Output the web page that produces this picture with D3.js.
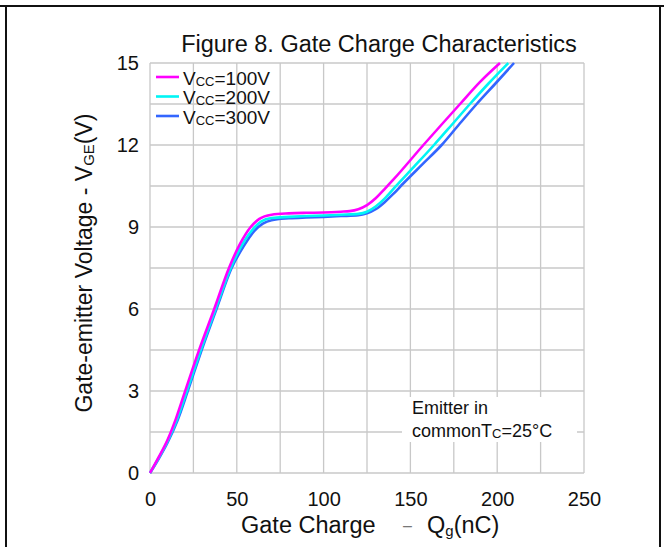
<!DOCTYPE html>
<html>
<head>
<meta charset="utf-8">
<script src="https://cdn.jsdelivr.net/npm/d3@7"></script>
<style>
  body { margin: 0; background: #fff; }
  svg text { font-family: "Liberation Sans", Arial, sans-serif; fill: #111; }
</style>
</head>
<body>
<div id="chart"></div>
<script>
// tick values
var xTicks = [0, 50, 100, 150, 200, 250];
var xGrid = [25, 50, 75, 100, 125, 150, 175, 200, 225, 250];
var yTicks = [0, 3, 6, 9, 12, 15];
var yGrid = [1.5, 3, 4.5, 6, 7.5, 9, 10.5, 12, 13.5, 15];

// series names / colours
var seriesNames = ["100V", "200V", "300V"];
var seriesColors = ["#ff00ff", "#00f5f5", "#3366ff"];

// Qg (nC), VGE (V)
var qg100 = [0, 5, 10, 15, 20, 28, 37, 45.5, 52, 58, 63, 70, 80, 90, 100, 110, 115, 120, 125, 130, 135, 140, 157.5, 168, 178.6, 190, 201.6];
var vge100 = [0, 0.58, 1.2, 2.0, 2.95, 4.45, 6, 7.5, 8.4, 9.0, 9.3, 9.45, 9.5, 9.52, 9.53, 9.56, 9.58, 9.65, 9.8, 10.05, 10.38, 10.72, 12, 12.75, 13.5, 14.3, 15];

var qg200 = [0, 5, 10, 15.5, 21, 29, 37.8, 46.5, 53, 59, 64, 70, 80, 90, 100, 110, 120, 125, 130, 135, 141, 152, 163.6, 174, 184.3, 195, 206.4];
var vge200 = [0, 0.55, 1.15, 1.95, 2.95, 4.45, 6, 7.5, 8.35, 8.9, 9.2, 9.33, 9.37, 9.4, 9.42, 9.45, 9.48, 9.56, 9.75, 10.03, 10.45, 11.2, 12, 12.75, 13.5, 14.25, 15];

var qg300 = [0, 5, 10, 16, 21.5, 29.5, 38.3, 47, 54, 60, 65, 70, 80, 90, 100, 110, 120, 125, 130, 135, 140, 146, 157, 168, 178, 188.2, 199, 209.7];
var vge300 = [0, 0.52, 1.1, 1.95, 2.95, 4.45, 6, 7.5, 8.3, 8.85, 9.12, 9.25, 9.32, 9.35, 9.37, 9.4, 9.43, 9.5, 9.65, 9.9, 10.2, 10.6, 11.3, 12, 12.75, 13.5, 14.25, 15];

var W = 664, H = 547;
var svg = d3.select("#chart").append("svg")
    .attr("width", W)
    .attr("height", H);

// outer frame (top, left, right)
svg.append("line").attr("x1", 0).attr("x2", W).attr("y1", 6).attr("y2", 6)
    .attr("stroke", "#111").attr("stroke-width", 2);
svg.append("line").attr("x1", 6).attr("x2", 6).attr("y1", 6).attr("y2", H)
    .attr("stroke", "#111").attr("stroke-width", 2);
svg.append("line").attr("x1", 660).attr("x2", 660).attr("y1", 6).attr("y2", H)
    .attr("stroke", "#111").attr("stroke-width", 2);

var x = d3.scaleLinear().domain([0, 250]).range([150, 584]);
var y = d3.scaleLinear().domain([0, 15]).range([473, 63]);

// grid
var grid = svg.append("g").attr("stroke", "#c8c8c8").attr("stroke-width", 1.3);
grid.selectAll(".vg").data(xGrid).enter().append("line")
    .attr("x1", function(d) { return x(d); })
    .attr("x2", function(d) { return x(d); })
    .attr("y1", y(0)).attr("y2", y(15));
grid.selectAll(".hg").data(yGrid).enter().append("line")
    .attr("x1", x(0)).attr("x2", x(250))
    .attr("y1", function(d) { return y(d); })
    .attr("y2", function(d) { return y(d); });
// axes lines
grid.append("line").attr("x1", x(0)).attr("x2", x(0)).attr("y1", y(0)).attr("y2", y(15));
grid.append("line").attr("x1", x(0)).attr("x2", x(250)).attr("y1", y(0)).attr("y2", y(0));

// white box behind annotation
svg.append("rect").attr("x", 402).attr("y", 397).attr("width", 175).attr("height", 45)
    .attr("fill", "#fff");

// tick labels
var xAxis = svg.append("g").attr("transform", "translate(0," + y(0) + ")")
    .call(d3.axisBottom(x).tickValues(xTicks).tickSize(0).tickPadding(19));
xAxis.select(".domain").remove();
xAxis.selectAll("text").attr("font-size", 20).attr("fill", "#111")
    .attr("font-family", "Liberation Sans, Arial, sans-serif");

var yAxis = svg.append("g").attr("transform", "translate(" + x(0) + ",0)")
    .call(d3.axisLeft(y).tickValues(yTicks).tickSize(0).tickPadding(11));
yAxis.select(".domain").remove();
yAxis.selectAll("text").attr("font-size", 20).attr("fill", "#111")
    .attr("font-family", "Liberation Sans, Arial, sans-serif");

// curves
var series = [
  { q: qg300, v: vge300, c: seriesColors[2] },
  { q: qg200, v: vge200, c: seriesColors[1] },
  { q: qg100, v: vge100, c: seriesColors[0] }
];
var line = d3.line()
    .x(function(d) { return x(d[0]); })
    .y(function(d) { return y(d[1]); })
    .curve(d3.curveMonotoneX);
svg.selectAll(".curve").data(series).enter().append("path")
    .attr("fill", "none")
    .attr("stroke", function(d) { return d.c; })
    .attr("stroke-width", 2.6)
    .attr("d", function(d) { return line(d.q.map(function(q, i) { return [q, d.v[i]]; })); });

// title
svg.append("text").attr("x", 379).attr("y", 52).attr("text-anchor", "middle")
    .attr("font-size", 23.5).text("Figure 8. Gate Charge Characteristics");

// legend
var legY = [77, 96.5, 116];
[0, 1, 2].forEach(function(i) {
  svg.append("line").attr("x1", 156).attr("x2", 179)
      .attr("y1", legY[i]).attr("y2", legY[i])
      .attr("stroke", seriesColors[i]).attr("stroke-width", 2.6);
  var t = svg.append("text").attr("x", 183).attr("y", legY[i] + 7.5).attr("font-size", 19);
  t.append("tspan").text("V");
  t.append("tspan").attr("font-size", 13).attr("dy", 1).text("CC");
  t.append("tspan").attr("dy", -1).text("=" + seriesNames[i]);
});

// annotation
svg.append("text").attr("x", 412).attr("y", 414).attr("font-size", 18).text("Emitter in");
var ann = svg.append("text").attr("x", 412).attr("y", 437).attr("font-size", 18);
ann.append("tspan").text("commonT");
ann.append("tspan").attr("font-size", 13).attr("dy", 1).text("C");
ann.append("tspan").attr("dy", -1).text("=25°C");

// x axis title
var xt = svg.append("text").attr("x", 241).attr("y", 533).attr("font-size", 23.5);
xt.append("tspan").text("Gate Charge");
xt.append("tspan").attr("x", 403).attr("fill", "#777").attr("font-size", 16).attr("dy", -2).text("\u2013");
xt.append("tspan").attr("x", 427).attr("dy", 2).text("Q");
xt.append("tspan").attr("font-size", 15).attr("dy", 3).text("g");
xt.append("tspan").attr("dy", -3).text("(nC)");

// y axis title
var yt = svg.append("text").attr("transform", "translate(92,263) rotate(-90)")
    .attr("text-anchor", "middle").attr("font-size", 23);
yt.append("tspan").text("Gate-emitter Voltage - V");
yt.append("tspan").attr("font-size", 15).attr("dy", 2).text("GE");
yt.append("tspan").attr("dy", -2).text("(V)");
</script>
</body>
</html>
